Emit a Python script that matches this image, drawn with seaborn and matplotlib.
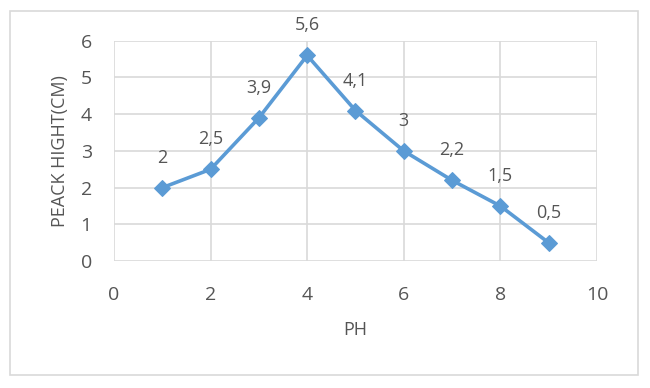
import matplotlib
matplotlib.use("Agg")
import matplotlib.pyplot as plt
import seaborn as sns
import pandas as pd
from matplotlib.patches import Rectangle

# values
ph = [1, 2, 3, 4, 5, 6, 7, 8, 9]
peak = [2, 2.5, 3.9, 5.6, 4.1, 3, 2.2, 1.5, 0.5]
labels = ["2", "2,5", "3,9", "5,6", "4,1", "3", "2,2", "1,5", "0,5"]

df = pd.DataFrame({"PH": ph, "peak": peak})

sns.set_style("white")
plt.rcParams["font.family"] = ["Open Sans", "DejaVu Sans"]

txt = "#555555"
grid = "#D9D9D9"
blue = "#5B9BD5"

fig = plt.figure(figsize=(6.5, 3.88), dpi=100)
ax = fig.add_axes([0.1754, 0.327, 0.743, 0.568])

# outer chart border
fig.patches.append(Rectangle((0.0154, 0.0335), 0.966, 0.938, transform=fig.transFigure,
                             fill=False, edgecolor=grid, linewidth=1.2))

sns.lineplot(data=df, x="PH", y="peak", ax=ax, color=blue, linewidth=2.6,
             marker="D", markersize=8, markeredgecolor=blue, zorder=3)

for x, y, s in zip(ph, peak, labels):
    ax.annotate(s, (x, y), xytext=(0, 30), textcoords="offset pixels",
                ha="center", va="center", fontsize=13, color=txt)

ax.set_xlim(0, 10)
ax.set_ylim(0, 6)
ax.set_xticks([0, 2, 4, 6, 8, 10])
ax.set_yticks([0, 1, 2, 3, 4, 5, 6])
ax.grid(True, color=grid, linewidth=1.2)
ax.set_axisbelow(True)
for sp in ax.spines.values():
    sp.set_visible(False)
ax.tick_params(axis="both", length=0, labelsize=14, labelcolor=txt)
ax.tick_params(axis="x", pad=18)
ax.tick_params(axis="y", pad=16)

ax.set_xlabel("PH", fontsize=13, color=txt)
ax.set_ylabel("PEACK HIGHT(CM)", fontsize=13, color=txt)
ax.xaxis.set_label_coords(0.5, -0.313)
ax.yaxis.set_label_coords(-0.112, 0.5)
ax.xaxis.label.set_va("center")
ax.yaxis.label.set_va("center")

fig.savefig("out.png", dpi=100)
